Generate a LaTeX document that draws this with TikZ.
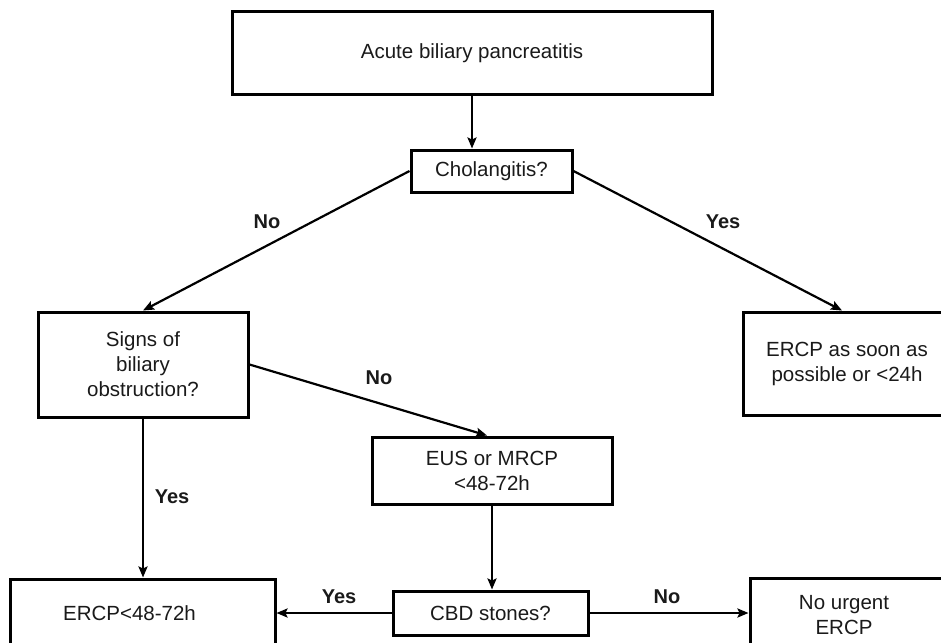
\documentclass[tikz,border=0pt]{standalone}
\usepackage{fontspec}
\setmainfont{Liberation Sans}
\usetikzlibrary{arrows.meta}
\definecolor{ink}{HTML}{1A1A1A}
\begin{document}
\begin{tikzpicture}[x=1pt,y=-1pt,
  box/.style={draw=black, line width=3pt, fill=white, align=center, text=ink,
    font=\fontsize{20.5}{25}\selectfont, inner sep=0pt, rectangle},
  txt/.style={align=center, text=ink, font=\fontsize{20.5}{25}\selectfont, inner sep=0pt},
  conn/.style={line width=2.2pt, -{Stealth[length=11pt,width=9pt,inset=2pt]}},
  lab/.style={text=ink, font=\fontsize{20}{24}\selectfont\bfseries, inner sep=0pt}]
\useasboundingbox (0,0) rectangle (941,642);
\clip (0,0) rectangle (941,642);
\fill[white] (0,0) rectangle (941,642);

% boxes
\node[box, minimum width=480pt, minimum height=82pt] (top) at (472,53) {Acute biliary pancreatitis};
\node[box, minimum width=161pt, minimum height=42pt] (chol) at (491.5,171) {Cholangitis?};
\node[box, minimum width=210pt, minimum height=105pt] (signs) at (143,364.5) {Signs of\\biliary\\obstruction?};
\node[box, minimum width=208pt, minimum height=103pt] (right) at (847,363.5) {ERCP as soon as\\possible or <24h};
\node[box, minimum width=240pt, minimum height=67pt] (eus) at (492,470.5) {EUS or MRCP\\<48-72h};
\node[box, minimum width=265pt, minimum height=72pt] (ercp) at (142.5,615) {};
\node[txt] (ercpt) at (129.5,613) {ERCP<48-72h};
\node[box, minimum width=195pt, minimum height=44pt] (cbd) at (490.5,613) {CBD stones?};
\node[box, minimum width=200pt, minimum height=76pt] (nou) at (850,616) {};
\node[txt] (nout) at (844,615) {No urgent\\ERCP};

% connectors
\draw[conn] (top.south -| 472,0) -- (472,0 |- chol.north);
\draw[conn] (chol.west) -- (signs.north);
\draw[conn] (chol.east) -- ([xshift=-5pt]right.north);
\draw[conn] (signs.east) -- ([xshift=-5pt]eus.north);
\draw[conn] (signs.south) -- (signs.south |- ercp.north);
\draw[conn] (eus.south) -- (eus.south |- cbd.north);
\draw[conn] (cbd.west) -- (cbd.west -| ercp.east);
\draw[conn] (cbd.east) -- (cbd.east -| nou.west);

% labels
\node[lab] (l1) at (267,222) {No};
\node[lab] (l2) at (723,222) {Yes};
\node[lab] (l3) at (379,378) {No};
\node[lab] (l4) at (172,497) {Yes};
\node[lab] (l5) at (339,597) {Yes};
\node[lab] (l6) at (667,597) {No};
\end{tikzpicture}
\end{document}
